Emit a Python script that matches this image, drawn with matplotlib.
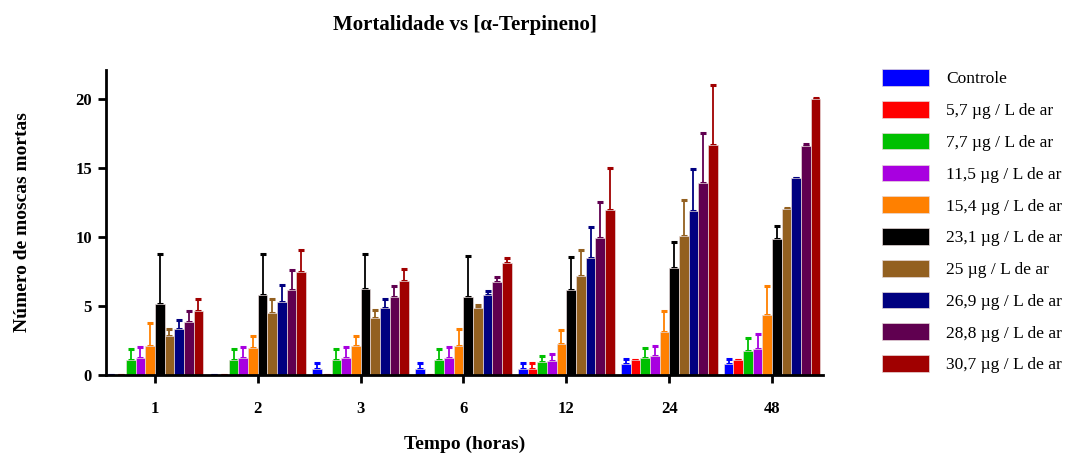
"""Mortality of flies vs alpha-terpinene dose, grouped by exposure time"""
import matplotlib
matplotlib.use('Agg')
import matplotlib.pyplot as plt
import numpy as np

plt.rcParams['font.family'] = ['Liberation Serif', 'DejaVu Serif']

# exposure times (hours)
tempos = ['1', '2', '3', '6', '12', '24', '48']

doses = ['Controle', '5,7 µg / L de ar', '7,7 µg / L de ar', '11,5 µg / L de ar',
         '15,4 µg / L de ar', '23,1 µg / L de ar', '25 µg / L de ar',
         '26,9 µg / L de ar', '28,8 µg / L de ar', '30,7 µg / L de ar']

cores = ['#0000ff', '#ff0000', '#00c000', '#a800e0', '#ff8000',
         '#000000', '#936020', '#000080', '#600050', '#a00000']

# mean number of dead flies, one list per dose (across the 7 times)
controle = [0, 0, 0.44, 0.44, 0.44, 0.77, 0.77]
d5_7 = [0, 0, 0, 0, 0.44, 1.09, 1.09]
d7_7 = [1.1, 1.1, 1.1, 1.1, 0.92, 1.26, 1.74]
d11_5 = [1.2, 1.2, 1.2, 1.2, 1.02, 1.38, 1.91]
d15_4 = [2.1, 1.96, 2.1, 2.1, 2.27, 3.12, 4.35]
d23_1 = [5.15, 5.76, 6.26, 5.66, 6.19, 7.76, 9.82]
d25 = [2.8, 4.5, 4.1, 4.88, 7.2, 10.06, 12.04]
d26_9 = [3.3, 5.3, 4.84, 5.78, 8.51, 11.87, 14.24]
d28_8 = [3.85, 6.19, 5.63, 6.75, 9.94, 13.88, 16.61]
d30_7 = [4.62, 7.45, 6.8, 8.13, 11.95, 16.69, 20.0]

# upper error (standard deviation)
e_controle = [0, 0, 0.43, 0.43, 0.43, 0.41, 0.41]
e_d5_7 = [0, 0, 0, 0, 0.43, 0, 0]
e_d7_7 = [0.75, 0.75, 0.75, 0.75, 0.43, 0.67, 0.97]
e_d11_5 = [0.8, 0.8, 0.8, 0.8, 0.48, 0.75, 1.09]
e_d15_4 = [1.67, 0.89, 0.75, 1.2, 1.02, 1.5, 2.13]
e_d23_1 = [3.65, 3.04, 2.54, 2.97, 2.37, 1.89, 0.99]
e_d25 = [0.56, 0.99, 0.6, 0.22, 1.84, 2.61, 0.05]
e_d26_9 = [0.67, 1.2, 0.65, 0.32, 2.2, 3.08, 0.06]
e_d28_8 = [0.77, 1.4, 0.8, 0.35, 2.56, 3.68, 0.09]
e_d30_7 = [0.85, 1.62, 0.91, 0.36, 3.02, 4.31, 0.1]

medias = [controle, d5_7, d7_7, d11_5, d15_4, d23_1, d25, d26_9, d28_8, d30_7]
erros = [e_controle, e_d5_7, e_d7_7, e_d11_5, e_d15_4, e_d23_1, e_d25,
         e_d26_9, e_d28_8, e_d30_7]

fig = plt.figure(figsize=(10.79, 4.54), dpi=100, facecolor='w')
ax = fig.add_axes([0.0982, 0.174, 0.6645, 0.672])

x = np.arange(len(tempos))
w = 0.094
n = len(doses)
for i in range(n):
    pos = x + (i - (n - 1) / 2.0) * w
    m = np.array(medias[i])
    e = np.array(erros[i])
    ax.bar(pos, m, width=w, color=cores[i], edgecolor='#e6d8d8', linewidth=0.5,
           label=doses[i], zorder=2)
    # only the upper half of the error bar is drawn
    ax.errorbar(pos, m, yerr=[np.zeros_like(e), e], fmt='none', ecolor=cores[i],
                elinewidth=1.3, capsize=2.2, capthick=2.2, zorder=1)

ax.set_xlim(-0.476, 6.495)
ax.set_ylim(0, 22.1)
ax.set_xticks(x)
ax.set_xticklabels(tempos)
ax.set_yticks([0, 5, 10, 15, 20])

for side in ['top', 'right']:
    ax.spines[side].set_visible(False)
for side in ['left', 'bottom']:
    ax.spines[side].set_linewidth(2.0)
ax.tick_params(axis='both', width=2.0, length=6, labelsize=12)
ax.tick_params(axis='x', pad=13)
ax.tick_params(axis='y', pad=4)
for label in ax.get_xticklabels() + ax.get_yticklabels():
    label.set_fontweight('bold')

ax.set_title('Mortalidade vs [α-Terpineno]', fontsize=15, fontweight='bold', pad=29)
ax.set_xlabel('Tempo (horas)', fontsize=14, fontweight='bold')
ax.xaxis.set_label_coords(0.5, -0.2)
ax.set_ylabel('Número de moscas mortas', fontsize=14, fontweight='bold')
ax.yaxis.set_label_coords(-0.105, 0.5)

leg = ax.legend(loc='upper left', bbox_to_anchor=(0.803, 0.882), bbox_transform=fig.transFigure,
                frameon=False, fontsize=12.5, handlelength=2.7, handleheight=1.1,
                labelspacing=0.78, handletextpad=1.0)

fig.savefig('out.png', dpi=100, facecolor=fig.get_facecolor())
